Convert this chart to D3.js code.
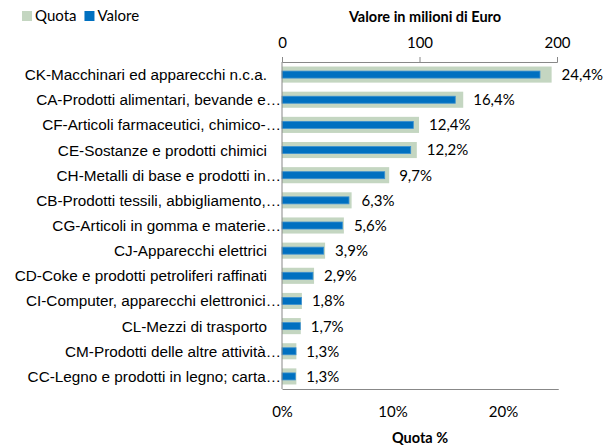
<!DOCTYPE html>
<html>
<head>
<meta charset="utf-8">
<script src="https://cdn.jsdelivr.net/npm/d3@7"></script>
<style>
  body { margin: 0; background: #fff; }
  svg text { fill: #000; }
</style>
</head>
<body>
<div id="chart"></div>
<script>
const categories = [
  'CK-Macchinari ed apparecchi n.c.a.',
  'CA-Prodotti alimentari, bevande e…',
  'CF-Articoli farmaceutici, chimico-…',
  'CE-Sostanze e prodotti chimici',
  'CH-Metalli di base e prodotti in…',
  'CB-Prodotti tessili, abbigliamento,…',
  'CG-Articoli in gomma e materie…',
  'CJ-Apparecchi elettrici',
  'CD-Coke e prodotti petroliferi raffinati',
  'CI-Computer, apparecchi elettronici…',
  'CL-Mezzi di trasporto',
  'CM-Prodotti delle altre attività…',
  'CC-Legno e prodotti in legno; carta…'
];
const quota = [24.4, 16.4, 12.4, 12.2, 9.7, 6.3, 5.6, 3.9, 2.9, 1.8, 1.7, 1.3, 1.3];
const valore = [187.6, 126, 95.5, 93.6, 74.7, 48.7, 43.9, 30.3, 22.5, 14.1, 13.3, 10.2, 9.7];
const valoreTicks = [0, 100, 200];
const quotaTicks = [0, 10, 20];
const seriesNames = ['Quota', 'Valore'];

const W = 614, H = 448;
const plotL = 282, plotR = 557, plotT = 62, plotB = 389;
const green = '#c4d6c1', blue = '#0070c0';

const svg = d3.select('#chart').append('svg')
  .attr('width', W)
  .attr('height', H);

const xVal = d3.scaleLinear().domain([0, 200]).range([plotL, plotR]);
const xPct = d3.scaleLinear().domain([0, 25]).range([plotL, plotL + 276.25]);
const y = d3.scaleBand().domain(categories).range([plotT, plotB]).paddingInner(0.36).paddingOuter(0.18);

// quota bars (wide, light green)
svg.append('g').selectAll('rect')
  .data(categories)
  .enter().append('rect')
  .attr('x', plotL)
  .attr('y', d => y(d))
  .attr('width', (d, i) => xPct(quota[i]) - plotL)
  .attr('height', y.bandwidth())
  .attr('fill', green);

// valore bars (narrow, blue)
const bh = 7;
svg.append('g').selectAll('rect')
  .data(categories)
  .enter().append('rect')
  .attr('x', plotL)
  .attr('y', d => y(d) + y.bandwidth() / 2 - bh / 2)
  .attr('width', (d, i) => xVal(valore[i]) - plotL)
  .attr('height', bh)
  .attr('fill', blue)
  .attr('stroke', '#3a8fd0')
  .attr('stroke-width', 0.8);

// percentage labels
svg.append('g').selectAll('text')
  .data(categories)
  .enter().append('text')
  .attr('x', (d, i) => xPct(quota[i]) + 10)
  .attr('y', d => y(d) + y.bandwidth() / 2)
  .attr('dy', '0.36em')
  .style('font', '15px Lato')
  .text((d, i) => quota[i].toFixed(1).replace('.', ',') + '%');

// category labels
svg.append('g').selectAll('text')
  .data(categories)
  .enter().append('text')
  .attr('x', d => d.endsWith('…') ? plotL - 1 : plotL - 15)
  .attr('y', d => y(d) + y.bandwidth() / 2)
  .attr('dy', '0.36em')
  .attr('text-anchor', 'end')
  .style('font', '15.3px "Liberation Sans"')
  .text(d => d);

// top axis (valore)
const axTop = svg.append('g')
  .attr('transform', 'translate(0,' + plotT + ')')
  .call(d3.axisTop(xVal).tickValues(valoreTicks).tickSize(5).tickPadding(9).tickSizeOuter(5));
axTop.select('.domain').attr('stroke', '#888');
axTop.selectAll('.tick line').attr('stroke', '#888');
axTop.selectAll('.tick text').style('font', '15px Lato').attr('fill', '#000');

// bottom labels (quota), no tick marks
const axBot = svg.append('g')
  .attr('transform', 'translate(0,' + plotB + ')')
  .call(d3.axisBottom(xPct).tickValues(quotaTicks).tickSize(0).tickPadding(17).tickFormat(d => d + '%'));
axBot.select('.domain').attr('stroke', '#888');
axBot.selectAll('.tick text').style('font', '15px Lato').attr('fill', '#000');

// left axis line
svg.append('line')
  .attr('x1', plotL).attr('x2', plotL)
  .attr('y1', plotT).attr('y2', plotB)
  .attr('stroke', '#888');

// titles
svg.append('text')
  .attr('x', 425).attr('y', 22)
  .attr('text-anchor', 'middle')
  .style('font', 'bold 14.5px Lato')
  .text('Valore in milioni di Euro');
svg.append('text')
  .attr('x', 420).attr('y', 443)
  .attr('text-anchor', 'middle')
  .style('font', 'bold 14.5px Lato')
  .text('Quota %');

// legend
const legend = svg.append('g').attr('transform', 'translate(22,0)');
let lx = 0;
[green, blue].forEach((c, i) => {
  legend.append('rect').attr('x', lx).attr('y', 11).attr('width', 10).attr('height', 10).attr('fill', c);
  const t = legend.append('text')
    .attr('x', lx + 13).attr('y', 21)
    .style('font', '15px Lato')
    .text(seriesNames[i]);
  lx += 13 + t.node().getComputedTextLength() + 8;
});
</script>
</body>
</html>
